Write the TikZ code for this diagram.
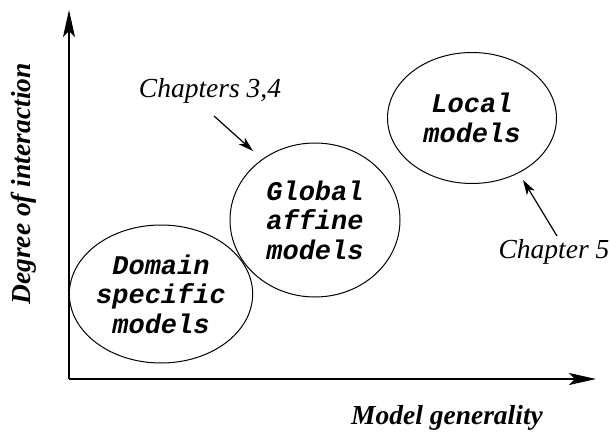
\documentclass[tikz,border=0pt]{standalone}
\usepackage{fontspec}
\setmainfont{Liberation Serif}
\setmonofont{Liberation Mono}
\usetikzlibrary{positioning}
\usetikzlibrary{arrows.meta}
\usetikzlibrary{shapes.geometric}

\begin{document}
\begin{tikzpicture}[
    x=1pt, y=-1pt,
    model/.style={
        draw,
        ellipse,
        align=center,
        inner sep=0pt,
        line width=1pt,
        font=\fontsize{27}{29.5}\selectfont\ttfamily\bfseries\itshape
    },
    chapter/.style={font=\fontsize{27.5}{30}\selectfont\itshape},
    axislabel/.style={font=\fontsize{27.5}{30}\selectfont\bfseries\itshape},
    axis/.style={draw, line width=1.2pt, -{Stealth[length=27pt,width=12pt,inset=6pt]}},
    pointer/.style={draw, line width=1.2pt, -{Stealth[length=15pt,width=9pt,inset=4pt]}}
]
\useasboundingbox (0,0) rectangle (610,433);

% axes
\coordinate (origin) at (69,379);
\coordinate (ytip) at (69,10);
\coordinate (xtip) at (596,379);
\draw[axis] (origin) -- (ytip);
\draw[axis] (origin) -- (xtip);

\node[axislabel, rotate=90] (ylabel) at (24,184) {Degree of interaction};
\node[axislabel] (xlabel) at (447,418) {Model generality};

% models
\node[model, minimum width=154pt, minimum height=138pt] (domain) at (161,294) {Domain\\specific\\models};
\node[model, minimum width=170pt, minimum height=154pt] (global) at (315,220) {Global\\affine\\models};
\node[model, minimum width=169pt, minimum height=131pt] (local) at (472,118) {Local\\models};

% chapters
\node[chapter] (ch34) at (210,91) {Chapters 3,4};
\node[chapter] (ch5) at (554,252) {Chapter 5};
\coordinate (tip34) at (253,151);
\coordinate (tip5) at (523,180);
\draw[pointer] ([shift={(4,9)}]ch34.south) -- (tip34);
\draw[pointer] ([shift={(3,0)}]ch5.north) -- (tip5);

\end{tikzpicture}
\end{document}
